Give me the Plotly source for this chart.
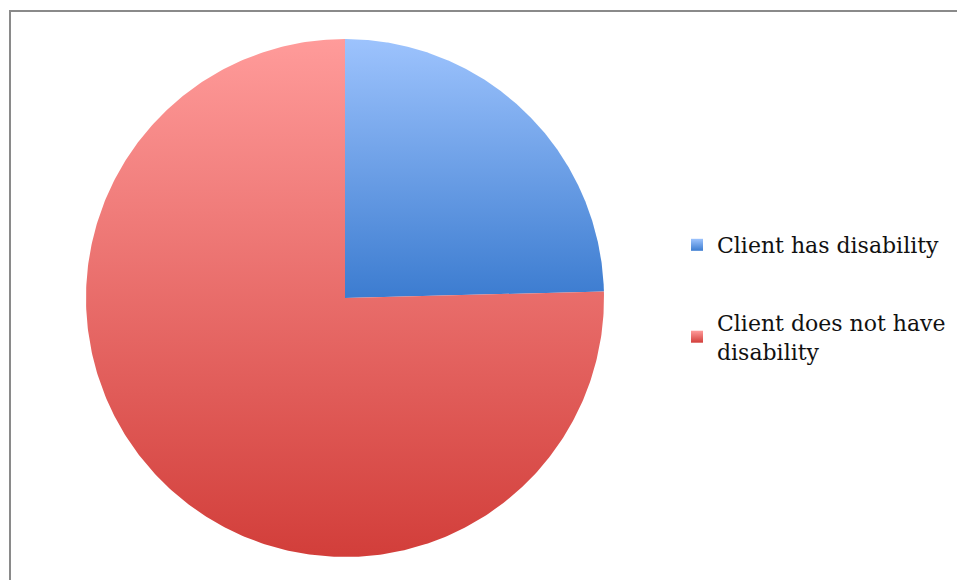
import numpy as np
import plotly.graph_objects as go

# Share of clients by disability status (percent)
labels = ["Client has disability", "Client does not have<br>disability"]
values = [24.6, 75.4]
light_colors = ["#9dc3fd", "#ff9b9a"]
dark_colors = ["#3c7cd0", "#d23e3a"]

W, H = 957, 580
cx_px, cy_px, r_px = 345, 298, 259

fig = go.Figure()

# Wedges drawn clockwise from 12 o'clock, each filled with a vertical gradient
fractions = np.array(values) / np.sum(values)
start = np.pi / 2
for frac, lab, lo, hi in zip(fractions, labels, dark_colors, light_colors):
    end = start - 2 * np.pi * frac
    theta = np.linspace(start, end, 400)
    xs = np.concatenate([[0], np.cos(theta), [0]])
    ys = np.concatenate([[0], np.sin(theta), [0]])
    fig.add_trace(go.Scatter(
        x=xs, y=ys, mode="lines", line=dict(width=0),
        fill="toself",
        fillgradient=dict(type="vertical", colorscale=[[0, lo], [1, hi]]),
        showlegend=False, hoverinfo="skip",
    ))
    start = end

# Legend swatches
for i, (lab, lo, hi) in enumerate(zip(labels, dark_colors, light_colors)):
    fig.add_trace(go.Scatter(
        x=[None], y=[None], mode="markers", name=lab,
        legendgroup=f"g{i}",
        marker=dict(symbol="square", size=12, color=hi,
                    gradient=dict(type="vertical", color=lo)),
    ))

fig.update_xaxes(range=[-cx_px / r_px, (W - cx_px) / r_px], visible=False)
fig.update_yaxes(range=[-(H - cy_px) / r_px, cy_px / r_px], visible=False)

fig.add_shape(type="rect", xref="paper", yref="paper",
              x0=10 / W, x1=1.02, y0=-0.02, y1=1 - 11 / H,
              line=dict(color="#8a8a8a", width=2))

fig.update_layout(
    width=W, height=H,
    margin=dict(l=0, r=0, t=0, b=0),
    paper_bgcolor="white", plot_bgcolor="white",
    legend=dict(x=677 / W, y=1 - 224 / H, xanchor="left", yanchor="top",
                font=dict(family="DejaVu Serif", size=22, color="#111"),
                tracegroupgap=46, itemwidth=30, bgcolor="rgba(0,0,0,0)"),
)

fig.write_html("out.html")
